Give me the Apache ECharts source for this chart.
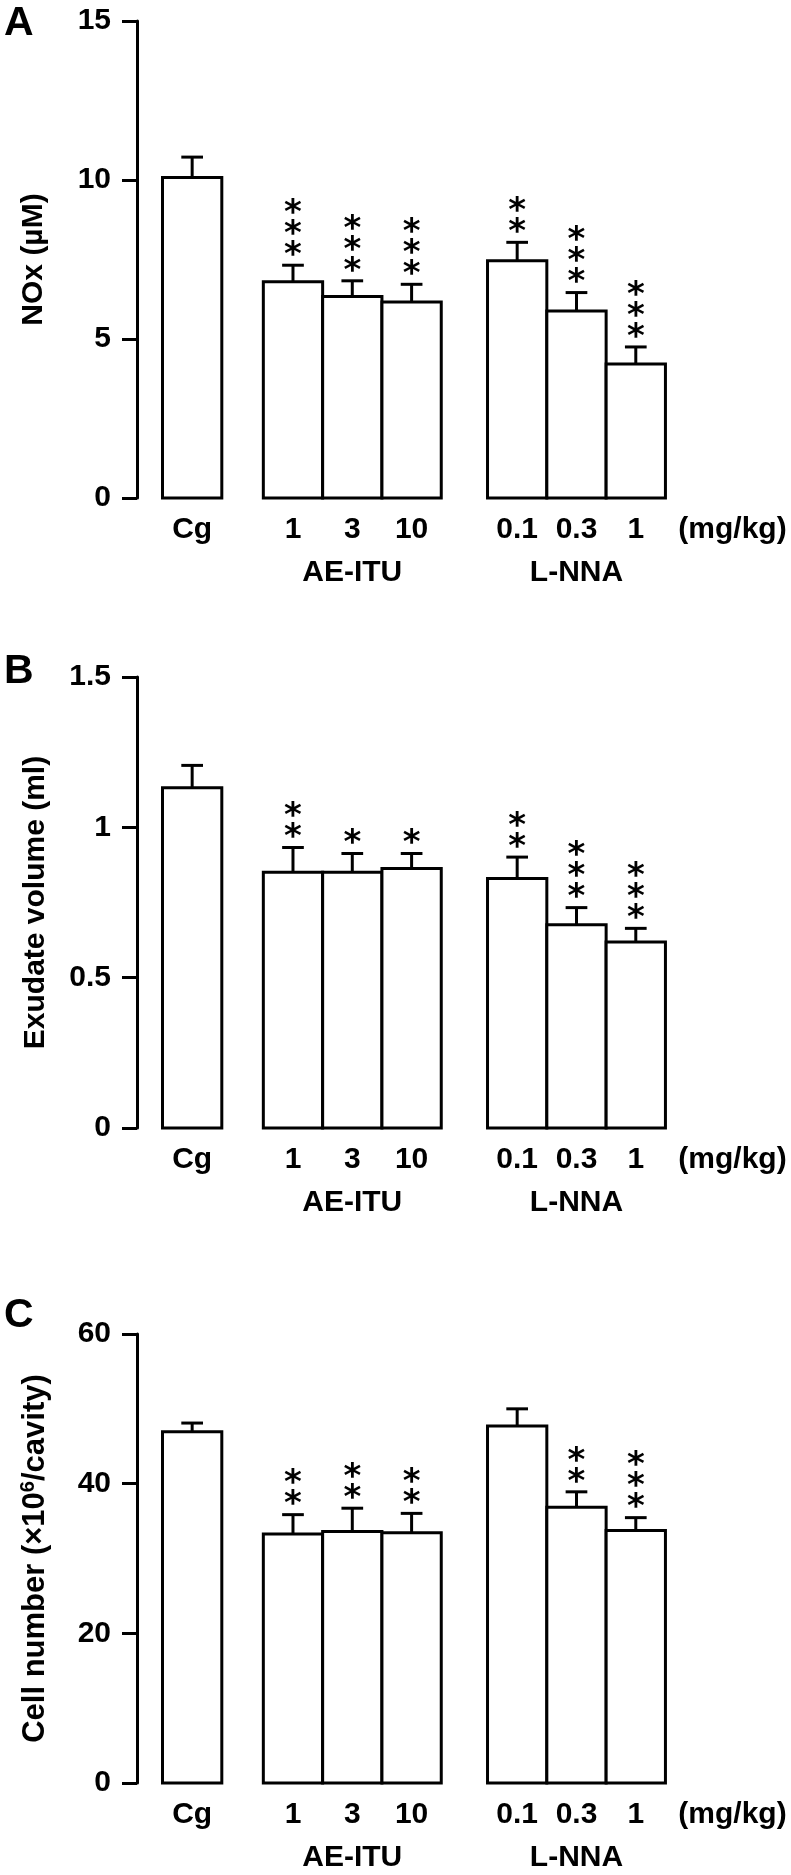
<!DOCTYPE html>
<html><head><meta charset="utf-8">
<script src="https://cdn.jsdelivr.net/npm/echarts@6.0.0/dist/echarts.min.js"></script>
<style>html,body{margin:0;padding:0;background:#fff}#c{width:791px;height:1875px}</style>
</head><body><div id="c"></div>
<script>
// ---------- data ----------
const categories = ['Cg', '1', '3', '10', '0.1', '0.3', '1'];
const groupNames = ['AE-ITU', 'L-NNA'];
const unitLabel = '(mg/kg)';

const noxMean = [10.08, 6.80, 6.34, 6.16, 7.46, 5.88, 4.21];
const noxErr  = [0.64, 0.52, 0.49, 0.56, 0.58, 0.58, 0.54];
const noxSig  = ['', '***', '***', '***', '**', '***', '***'];
const noxTicks = [0, 5, 10, 15];

const exuMean = [1.132, 0.851, 0.851, 0.863, 0.830, 0.676, 0.619];
const exuErr  = [0.074, 0.082, 0.062, 0.050, 0.071, 0.057, 0.045];
const exuSig  = ['', '**', '*', '*', '**', '***', '***'];
const exuTicks = [0, 0.5, 1, 1.5];

const cellMean = [46.95, 33.28, 33.62, 33.45, 47.70, 36.84, 33.74];
const cellErr  = [1.15, 2.58, 3.10, 2.58, 2.30, 2.07, 1.72];
const cellSig  = ['', '**', '**', '**', '', '**', '***'];
const cellTicks = [0, 20, 40, 60];

// ---------- layout ----------
const slotPos = [0, 1.7, 2.7, 3.7, 5.48, 6.48, 7.48];   // bar slots (bar width = 1 slot)
const groupSlots = [[1, 2, 3], [4, 5, 6]];
const unitPos = 9.11;
const FONT = "'Liberation Sans', Arial, Helvetica, sans-serif";
const STAR_FONT = "'DejaVu Sans', sans-serif";
const LW = 3;

const panels = [
  { letter: 'A', letterY: 24, top: 21, height: 477, name: 'NOx (µM)', nameGap: 88, nameSize: 30,
    mean: noxMean, err: noxErr, sig: noxSig, ticks: noxTicks },
  { letter: 'B', letterY: 672, top: 677, height: 451, name: 'Exudate volume (ml)', nameGap: 86, nameSize: 30,
    mean: exuMean, err: exuErr, sig: exuSig, ticks: exuTicks },
  { letter: 'C', letterY: 1316, top: 1334, height: 449, name: 'Cell number (×10{sup|6}/cavity)', nameGap: 85, nameSize: 31,
    mean: cellMean, err: cellErr, sig: cellSig, ticks: cellTicks }
];

const grids = [], xAxes = [], yAxes = [], series = [], graphics = [];

panels.forEach((p, k) => {
  grids.push({ left: 137, width: 618, top: p.top, height: p.height, containLabel: false, outerBoundsMode: 'none' });
  xAxes.push({ gridIndex: k, type: 'value', min: -0.93, max: 9.49, show: false });
  yAxes.push({
    gridIndex: k, type: 'value', position: 'left',
    min: p.ticks[0], max: p.ticks[p.ticks.length - 1], interval: p.ticks[1] - p.ticks[0],
    axisLine: { show: true, onZero: false, lineStyle: { color: '#000', width: LW } },
    axisTick: { show: true, inside: false, length: 15, lineStyle: { color: '#000', width: LW } },
    splitLine: { show: false },
    axisLabel: { color: '#000', fontFamily: FONT, fontWeight: 'bold', fontSize: 30, margin: 26,
                 showMinLabel: true, showMaxLabel: true },
    name: p.name, nameLocation: 'middle', nameRotate: 90, nameGap: p.nameGap,
    nameTextStyle: { color: '#000', fontFamily: FONT, fontWeight: 'bold', fontSize: p.nameSize,
      rich: { sup: { fontFamily: FONT, fontWeight: 'bold', fontSize: 20, verticalAlign: 'top', color: '#000', padding: [0, 0, 14, 0] } } }
  });

  const barData = categories.map((c, i) => [slotPos[i], p.mean[i], p.err[i], i]);
  series.push({
    type: 'custom', xAxisIndex: k, yAxisIndex: k, clip: false, silent: true,
    data: barData,
    renderItem: function (params, api) {
      const x = api.value(0), m = api.value(1), e = api.value(2), i = api.value(3);
      const tl = api.coord([x - 0.5, m]);
      const br = api.coord([x + 0.5, 0]);
      const cx = (tl[0] + br[0]) / 2;
      const top = api.coord([x, m + e]);
      const capHalf = api.size([1, 0])[0] * 0.183;
      const ch = [];
      ch.push({ type: 'line', shape: { x1: cx, y1: tl[1], x2: cx, y2: top[1] }, style: { stroke: '#000', lineWidth: LW } });
      ch.push({ type: 'line', shape: { x1: cx - capHalf, y1: top[1], x2: cx + capHalf, y2: top[1] }, style: { stroke: '#000', lineWidth: LW } });
      ch.push({ type: 'rect', shape: { x: tl[0], y: tl[1], width: br[0] - tl[0], height: br[1] - tl[1] },
                style: { fill: '#fff', stroke: '#000', lineWidth: LW } });
      const n = p.sig[i].length;
      for (let s = 0; s < n; s++) {
        ch.push({ type: 'text', x: cx, y: top[1] - 18 - s * 21 + 9,
                  style: { text: '*', fill: '#000', font: 'bold 34px ' + STAR_FONT, align: 'center', verticalAlign: 'middle' } });
      }
      ch.push({ type: 'text', x: cx, y: br[1] + 32,
                style: { text: categories[i], fill: '#000', font: 'bold 30px ' + FONT, align: 'center', verticalAlign: 'middle' } });
      return { type: 'group', children: ch };
    }
  });

  const lblData = groupNames.map((g, j) => {
    const sl = groupSlots[j];
    return [(slotPos[sl[0]] + slotPos[sl[sl.length - 1]]) / 2, j];
  });
  series.push({
    type: 'custom', xAxisIndex: k, yAxisIndex: k, clip: false, silent: true,
    data: lblData,
    renderItem: function (params, api) {
      const pt = api.coord([api.value(0), 0]);
      const j = api.value(1);
      const ch = [{ type: 'text', x: pt[0], y: pt[1] + 75,
        style: { text: groupNames[j], fill: '#000', font: 'bold 30px ' + FONT, align: 'center', verticalAlign: 'middle' } }];
      if (j === 1) {
        const up = api.coord([unitPos, 0]);
        ch.push({ type: 'text', x: up[0], y: up[1] + 32,
          style: { text: unitLabel, fill: '#000', font: 'bold 30px ' + FONT, align: 'center', verticalAlign: 'middle' } });
      }
      return { type: 'group', children: ch };
    }
  });

  graphics.push({ type: 'text', x: 4, y: p.letterY,
    style: { text: p.letter, fill: '#000', font: 'bold 41px ' + FONT, align: 'left', verticalAlign: 'middle' } });
});

const chart = echarts.init(document.getElementById('c'), null, { renderer: 'canvas' });
chart.setOption({
  backgroundColor: '#fff',
  animation: false,
  grid: grids, xAxis: xAxes, yAxis: yAxes, series: series, graphic: graphics
});
</script>
</body></html>
